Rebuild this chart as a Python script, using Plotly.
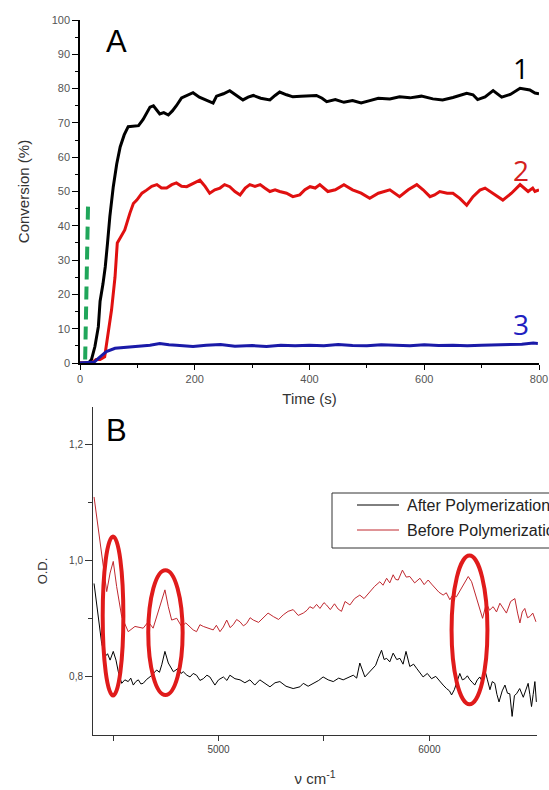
import plotly.graph_objects as go

# ---------------- Panel A data ----------------
t1 = [0, 15, 20, 26, 32, 35, 40, 44, 48, 52, 58, 64, 70, 77, 84, 95, 102, 110, 116, 122, 128, 134, 139, 146,
      154, 161, 168, 177, 187, 197, 208, 221, 232, 238, 250, 261, 272, 284, 293, 302, 315, 331, 340, 348, 360,
      371, 385, 400, 412, 422, 430, 445, 460, 475, 490, 505, 520, 540, 557, 575, 595, 615, 632, 650, 663, 674,
      685, 693, 706, 720, 735, 750, 767, 778, 784, 793, 800]
v1 = [0, 0, 1, 4.8, 10.6, 18, 23, 28, 35, 42.7, 51.4, 58, 63, 66.5, 68.9, 69, 69.2, 71, 73, 74.6, 75, 73.5,
      72.6, 73, 72.3, 73.5, 75, 77.3, 78, 78.8, 77.5, 76.7, 75.8, 77.8, 78.5, 79.4, 78.2, 76.7, 77.5, 78, 77.2,
      76.7, 78, 79, 78.2, 77.6, 77.8, 78, 78, 77.2, 76.2, 76.8, 76, 76.5, 75.8, 76.5, 77.2, 77, 77.6, 77.3,
      77.8, 77, 76.7, 77.4, 78, 78.6, 78.2, 76.8, 77.6, 79.4, 77.5, 78.3, 80.1, 79.8, 79.6, 78.7, 78.5]

t2 = [0, 20, 28, 35, 43, 47, 51, 55, 61, 65, 72, 78, 87, 93, 99, 108, 116, 125, 134, 142, 151, 160, 168, 177,
      186, 198, 209, 218, 226, 235, 244, 252, 261, 270, 279, 288, 296, 305, 314, 322, 331, 340, 348, 360, 371,
      383, 392, 401, 410, 418, 432, 445, 460, 475, 490, 505, 520, 540, 557, 572, 587, 598, 610, 618, 627, 640,
      650, 662, 674, 685, 697, 706, 720, 737, 752, 767, 781, 789, 793, 800]
v2 = [0, 0, 1, 1, 1.8, 6.7, 11, 15.5, 25, 35, 37, 38.8, 43.7, 46.5, 47.5, 49.5, 50.4, 51.5, 52, 51, 51, 52,
      52.5, 51.5, 51.4, 52.5, 53.3, 51.5, 49.5, 50.5, 51, 52, 51.4, 50, 49, 51, 52, 51.5, 52, 51, 50, 50.5,
      50, 49.5, 48.5, 49, 50.5, 51.4, 51, 52, 50, 50.5, 52, 50.5, 49.5, 48, 49.5, 50.5, 48.5, 50.5, 52, 50.5,
      48.5, 49, 50, 49.5, 49.5, 48, 46, 48.5, 50.4, 51, 49.5, 47.5, 49.5, 52, 50, 51, 50, 50.5]

t3 = [0, 25, 35, 46, 61, 75, 93, 110, 122, 139, 155, 168, 197, 220, 245, 270, 300, 325, 350, 375, 400, 425,
      450, 475, 500, 525, 550, 575, 600, 625, 650, 675, 700, 725, 750, 770, 790, 798]
v3 = [0, 0.3, 1.8, 3.3, 4.3, 4.5, 4.8, 5, 5.2, 5.7, 5.3, 5.2, 4.8, 5.2, 5.4, 4.9, 5.1, 4.8, 5.2, 5, 5.2, 5,
      5.4, 5.1, 5, 5.3, 5.2, 5, 5.3, 5.1, 5.2, 5, 5.2, 5.3, 5.2, 5.5, 5.8, 5.7]

tg = [9, 14]
vg = [1, 46]

curve_labels = ["1", "2", "3"]

# ---------------- Panel B data ----------------
nu_before = [4410, 4425, 4440, 4454, 4470, 4486, 4501, 4517, 4541, 4572, 4604, 4643, 4667, 4690, 4723, 4746,
             4762, 4778, 4802, 4825, 4845, 4865, 4880, 4896, 4912, 4928, 4950, 4975, 4990, 5007, 5023, 5039,
             5055, 5070, 5086, 5102, 5118, 5133, 5150, 5165, 5190, 5212, 5235, 5260, 5285, 5307, 5330, 5354,
             5378, 5402, 5420, 5433, 5449, 5465, 5481, 5500, 5512, 5530, 5550, 5567, 5583, 5600, 5623, 5645,
             5670, 5690, 5718, 5740, 5765, 5780, 5797, 5812, 5828, 5840, 5852, 5872, 5890, 5907, 5930, 5955,
             5975, 5994, 6010, 6026, 6045, 6065, 6080, 6097, 6112, 6128, 6145, 6160, 6184, 6200, 6212, 6223,
             6240, 6252, 6270, 6285, 6302, 6318, 6334, 6350, 6365, 6385, 6405, 6418, 6429, 6440, 6452, 6465,
             6476, 6490, 6505]
od_before = [1.11, 1.07, 1.03, 0.996, 0.947, 0.979, 0.999, 0.956, 0.904, 0.878, 0.887, 0.884, 0.895, 0.884,
             0.921, 0.950, 0.921, 0.898, 0.901, 0.887, 0.893, 0.887, 0.881, 0.878, 0.89, 0.887, 0.884, 0.881,
             0.889, 0.878, 0.886, 0.898, 0.885, 0.890, 0.899, 0.895, 0.888, 0.892, 0.902, 0.898, 0.894, 0.901,
             0.91, 0.904, 0.899, 0.907, 0.913, 0.916, 0.906, 0.910, 0.915, 0.921, 0.918, 0.925, 0.918, 0.928,
             0.924, 0.916, 0.926, 0.917, 0.913, 0.93, 0.924, 0.935, 0.941, 0.935, 0.947, 0.956, 0.964, 0.958,
             0.970, 0.962, 0.976, 0.968, 0.967, 0.984, 0.972, 0.973, 0.962, 0.970, 0.959, 0.967, 0.960, 0.953,
             0.946, 0.941, 0.945, 0.933, 0.942, 0.938, 0.948, 0.959, 0.973, 0.964, 0.95, 0.933, 0.915, 0.901,
             0.927, 0.915, 0.921, 0.912, 0.927, 0.918, 0.910, 0.93, 0.935, 0.91, 0.893, 0.912, 0.918, 0.902,
             0.904, 0.91, 0.895]

nu_after = [4410, 4420, 4430, 4446, 4462, 4474, 4486, 4501, 4514, 4525, 4541, 4556, 4572, 4584, 4596, 4608,
            4620, 4632, 4643, 4660, 4675, 4690, 4707, 4720, 4731, 4746, 4762, 4786, 4810, 4822, 4833, 4850,
            4865, 4880, 4896, 4912, 4928, 4945, 4959, 4983, 5000, 5023, 5040, 5054, 5078, 5102, 5125, 5149,
            5172, 5196, 5220, 5244, 5268, 5291, 5320, 5354, 5386, 5402, 5425, 5449, 5475, 5496, 5520, 5544,
            5570, 5591, 5615, 5639, 5655, 5670, 5694, 5710, 5726, 5745, 5757, 5773, 5785, 5797, 5812, 5828,
            5845, 5860, 5875, 5889, 5907, 5925, 5939, 5955, 5970, 5990, 6010, 6030, 6049, 6065, 6081, 6095,
            6105, 6118, 6128, 6144, 6156, 6168, 6180, 6192, 6205, 6215, 6227, 6239, 6251, 6263, 6275, 6287,
            6298, 6310, 6320, 6330, 6345, 6358, 6370, 6381, 6392, 6403, 6413, 6428, 6445, 6458, 6468, 6476,
            6484, 6492, 6500, 6507]
od_after = [0.961, 0.93, 0.898, 0.858, 0.835, 0.84, 0.829, 0.844, 0.829, 0.809, 0.789, 0.795, 0.792, 0.798,
            0.786, 0.792, 0.795, 0.788, 0.789, 0.796, 0.800, 0.806, 0.812, 0.808, 0.821, 0.844, 0.824, 0.809,
            0.815, 0.806, 0.809, 0.803, 0.800, 0.806, 0.803, 0.794, 0.797, 0.803, 0.800, 0.786, 0.795, 0.800,
            0.794, 0.803, 0.797, 0.795, 0.790, 0.795, 0.786, 0.795, 0.789, 0.783, 0.79, 0.792, 0.784, 0.780,
            0.783, 0.789, 0.784, 0.789, 0.794, 0.800, 0.795, 0.792, 0.798, 0.795, 0.799, 0.803, 0.798, 0.824,
            0.800, 0.806, 0.812, 0.82, 0.832, 0.846, 0.83, 0.832, 0.826, 0.841, 0.83, 0.832, 0.822, 0.844,
            0.818, 0.822, 0.815, 0.808, 0.800, 0.806, 0.797, 0.801, 0.792, 0.786, 0.780, 0.776, 0.769, 0.778,
            0.789, 0.806, 0.795, 0.797, 0.802, 0.795, 0.79, 0.786, 0.795, 0.800, 0.792, 0.812, 0.795, 0.778,
            0.792, 0.789, 0.77, 0.757, 0.776, 0.786, 0.772, 0.771, 0.732, 0.768, 0.771, 0.78, 0.765, 0.778,
            0.789, 0.77, 0.749, 0.77, 0.792, 0.757]

series_names = ["After Polymerization", "Before Polymerization"]

# Ellipses marking peaks (panel B, data coords)
ell_x0 = [4451, 4667, 6105]
ell_x1 = [4549, 4830, 6275]
ell_y0 = [0.768, 0.769, 0.753]
ell_y1 = [1.042, 0.984, 1.009]

W, H = 549, 790
FONT = "Liberation Sans, Arial, sans-serif"


def px(x):
    return x / W


def py(y):
    return 1 - y / H


fig = go.Figure()
fig.add_trace(go.Scatter(x=tg, y=vg, mode="lines", line=dict(color="#1fa65a", width=4, dash="13px,7px"),
                         showlegend=False, xaxis="x", yaxis="y"))
fig.add_trace(go.Scatter(x=t1, y=v1, mode="lines", line=dict(color="black", width=3),
                         showlegend=False, xaxis="x", yaxis="y"))
fig.add_trace(go.Scatter(x=t2, y=v2, mode="lines", line=dict(color="#e01010", width=3),
                         showlegend=False, xaxis="x", yaxis="y"))
fig.add_trace(go.Scatter(x=t3, y=v3, mode="lines", line=dict(color="#1a1aa8", width=3),
                         showlegend=False, xaxis="x", yaxis="y"))

leg_colors = ["black", "#c0282f"]
fig.add_trace(go.Scatter(x=nu_after, y=od_after, mode="lines", name=series_names[0],
                         line=dict(color=leg_colors[0], width=1), showlegend=False, xaxis="x2", yaxis="y2"))
fig.add_trace(go.Scatter(x=nu_before, y=od_before, mode="lines", name=series_names[1],
                         line=dict(color=leg_colors[1], width=1), showlegend=False, xaxis="x2", yaxis="y2"))

shapes = []
for a, b, c, d in zip(ell_x0, ell_x1, ell_y0, ell_y1):
    shapes.append(dict(type="circle", xref="x2", yref="y2", x0=a, x1=b, y0=c, y1=d,
                       line=dict(color="#e01b1b", width=4)))

# legend box (extends past the right edge, as in the original)
shapes.append(dict(type="rect", xref="paper", yref="paper", x0=px(332), x1=px(600), y0=py(548), y1=py(493),
                   line=dict(color="#333", width=1), fillcolor="white", layer="above"))
leg_rows_y = [505, 530]
annotations = []
for name, col, yy in zip(series_names, leg_colors, leg_rows_y):
    shapes.append(dict(type="line", xref="paper", yref="paper", x0=px(357), x1=px(399), y0=py(yy), y1=py(yy),
                       line=dict(color=col, width=1), layer="above"))
    annotations.append(dict(text=name, x=px(405), y=py(yy), xref="paper", yref="paper", showarrow=False,
                            xanchor="left", yanchor="middle",
                            font=dict(size=16, color="#222", family=FONT)))

annotations += [
    dict(text="A", x=px(116), y=py(42), xref="paper", yref="paper", showarrow=False,
         xanchor="center", yanchor="middle", font=dict(size=31, color="black", family=FONT)),
    dict(text="B", x=px(117), y=py(430), xref="paper", yref="paper", showarrow=False,
         xanchor="center", yanchor="middle", font=dict(size=31, color="black", family=FONT)),
]
lab_y = [68, 170, 324]
lab_c = ["black", "#d42020", "#2020c0"]
for s, yy, c in zip(curve_labels, lab_y, lab_c):
    annotations.append(dict(text=s, x=px(521), y=py(yy), xref="paper", yref="paper", showarrow=False,
                            xanchor="center", yanchor="middle",
                            font=dict(size=28, color=c, family="Open Sans, sans-serif")))

fig.update_layout(
    width=W, height=H,
    margin=dict(l=0, r=0, t=0, b=0, autoexpand=False),
    paper_bgcolor="white", plot_bgcolor="white",
    font=dict(family=FONT, color="#333"),
    showlegend=False,
    xaxis=dict(domain=[px(80), px(539)], range=[0, 800], anchor="y",
               showline=True, linecolor="black", linewidth=1.5, showgrid=False, zeroline=False,
               ticks="outside", ticklen=5, tickcolor="black", tickwidth=1, dtick=200, tick0=0,
               minor=dict(dtick=100, ticks="outside", ticklen=3, tickcolor="black"),
               tickfont=dict(size=11, color="#555"),
               title=dict(text="Time (s)", font=dict(size=15, color="#333"), standoff=10)),
    yaxis=dict(domain=[py(363), py(20)], range=[0, 100], anchor="x",
               showline=True, linecolor="black", linewidth=1.5, showgrid=False, zeroline=False,
               ticks="outside", ticklen=6, tickcolor="black", tickwidth=1, dtick=10, tick0=0,
               minor=dict(dtick=5, ticks="outside", ticklen=3, tickcolor="black"),
               tickfont=dict(size=11, color="#555"),
               title=dict(text="Conversion (%)", font=dict(size=15, color="#333"), standoff=18)),
    xaxis2=dict(domain=[px(93), px(537)], range=[4405, 6510], anchor="y2", automargin=True,
                showline=True, linecolor="#333", linewidth=1, showgrid=False, zeroline=False,
                ticks="outside", ticklen=5, tickcolor="#333", tickvals=[5000, 6000],
                ticktext=["5000", "6000"],
                minor=dict(tickvals=[4500, 5500], ticks="outside", ticklen=5, tickcolor="#333"),
                tickfont=dict(size=10, color="#444"),
                title=dict(text="ν cm<sup>-1</sup>", font=dict(size=15, color="#333"), standoff=19)),
    yaxis2=dict(domain=[py(735), py(407)], range=[0.7, 1.265], anchor="x2",
                showline=True, linecolor="#333", linewidth=1, showgrid=False, zeroline=False,
                ticks="outside", ticklen=7, tickcolor="#333", tickvals=[0.8, 1.0, 1.2],
                ticktext=["0,8", "1,0", "1,2"],
                minor=dict(tickvals=[0.9, 1.1], ticks="outside", ticklen=4, tickcolor="#333"),
                tickfont=dict(size=10, color="#444"),
                title=dict(text="O.D.", font=dict(size=13, color="#333"), standoff=18)),
    shapes=shapes,
    annotations=annotations,
)

# remove the default 8px page margin so the 549x790 figure fills the window exactly
fig.write_html("out.html", config={"displayModeBar": False},
               post_script="document.body.style.margin='0';document.body.style.overflow='hidden';")
